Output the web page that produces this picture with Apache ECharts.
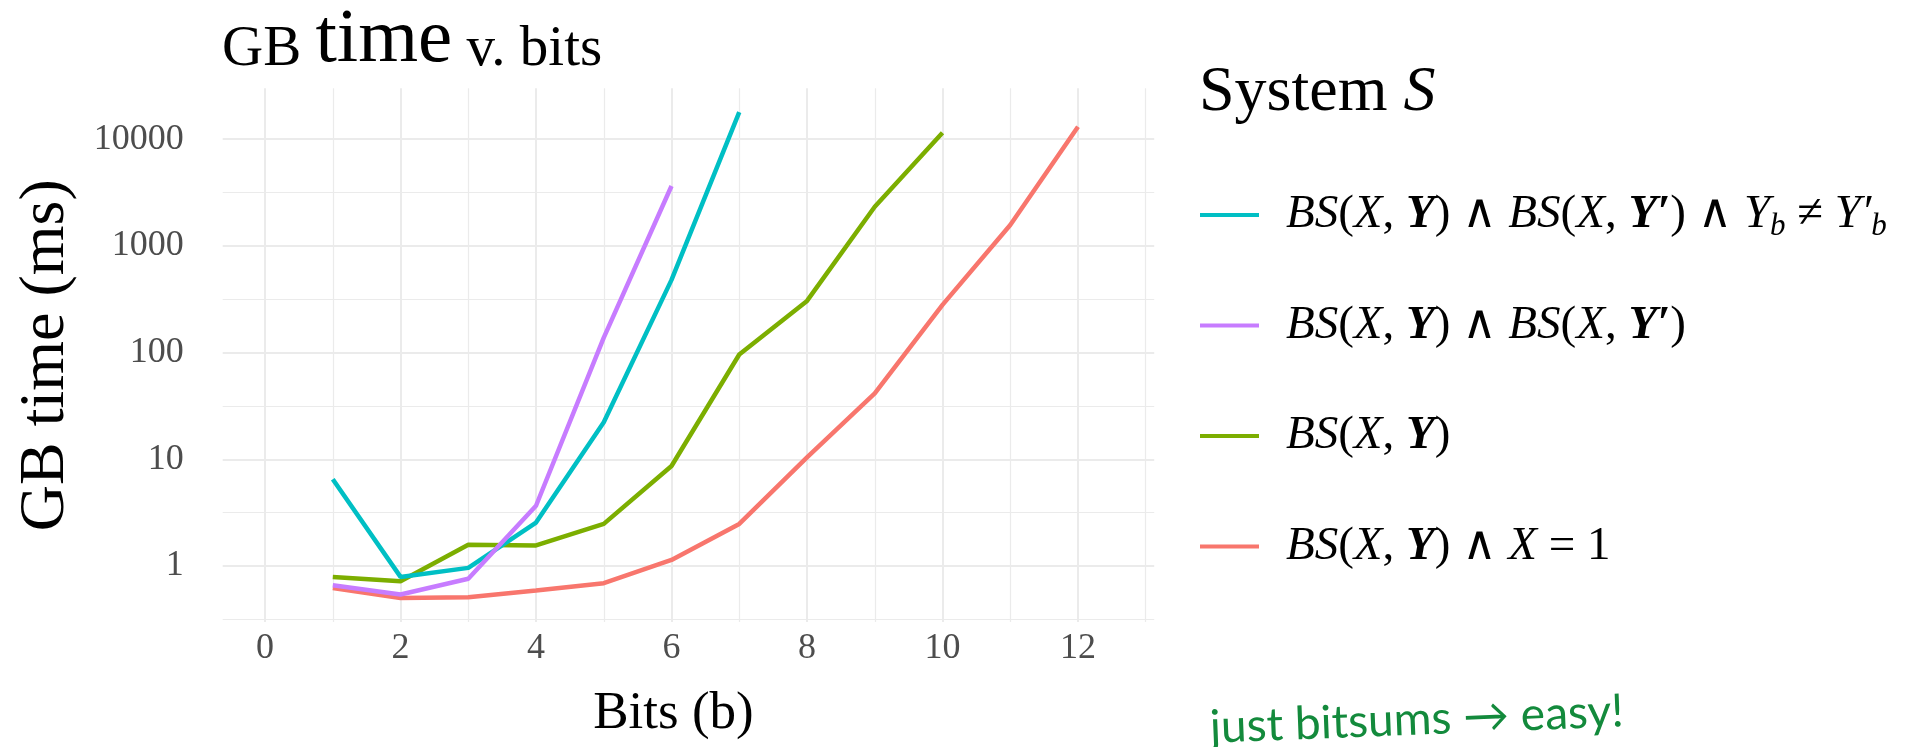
<!DOCTYPE html>
<html>
<head>
<meta charset="utf-8">
<script src="https://cdn.jsdelivr.net/npm/echarts@6/dist/echarts.min.js"></script>
<style>
  html, body { margin: 0; padding: 0; background: #fff; }
  #main { width: 1926px; height: 747px; }
</style>
</head>
<body>
<div id="main"></div>
<script>
// x: number of bits, y: GB time in ms (plotted on a log10 scale)
const bits = [1, 2, 3, 4, 5, 6, 7, 8, 9, 10, 11, 12];
const timeEq1 = [0.62, 0.50, 0.51, 0.59, 0.69, 1.14, 2.48, 10.4, 41.5, 280, 1570, 13100];
const timeBS = [0.79, 0.72, 1.58, 1.56, 2.48, 8.65, 96, 305, 2330, 11500];
const timeBS2 = [0.66, 0.54, 0.76, 3.67, 138, 3640];
const timeBS2Neq = [6.5, 0.79, 0.96, 2.55, 22.2, 480, 17900];

const xMajor = [0, 2, 4, 6, 8, 10, 12];
const xMinor = [1, 3, 5, 7, 9, 11, 13];
const yMajor = [0, 1, 2, 3, 4];            // log10 of 1 .. 10000
const yMinor = [-0.5, 0.5, 1.5, 2.5, 3.5];

const serif = 'Liberation Serif, DejaVu Serif, serif';
const gridColor = '#EBEBEB';

// legend labels, drawn as rich text
const labels = {
  bs2neq: '{i|BS}{n|(}{i|X}{n|, }{b|Y}{n|) ∧ }{i|BS}{n|(}{i|X}{n|, }{b|Y′}{n|) ∧ }{i|Y}{s|b}{n| ≠ }{i|Y′}{s|b}',
  bs2: '{i|BS}{n|(}{i|X}{n|, }{b|Y}{n|) ∧ }{i|BS}{n|(}{i|X}{n|, }{b|Y′}{n|)}',
  bs: '{i|BS}{n|(}{i|X}{n|, }{b|Y}{n|)}',
  eq1: '{i|BS}{n|(}{i|X}{n|, }{b|Y}{n|) ∧ }{i|X}{n| = 1}'
};
const legendOrder = ['bs2neq', 'bs2', 'bs', 'eq1'];
const legendCenters = [218.5, 329, 439.5, 550];

const richLegend = {
  i: { fontFamily: serif, fontStyle: 'italic', fontSize: 47, lineHeight: 54, color: '#000' },
  b: { fontFamily: serif, fontStyle: 'italic', fontWeight: 'bold', fontSize: 47, lineHeight: 54, color: '#000' },
  n: { fontFamily: serif, fontSize: 47, lineHeight: 54, color: '#000' },
  s: { fontFamily: serif, fontStyle: 'italic', fontSize: 31, lineHeight: 26, verticalAlign: 'bottom', color: '#000' }
};

const toLog = (vals) => vals.map((v, i) => [bits[i], Math.log10(v)]);

const lineSeries = (name, vals, color) => ({
  name: name,
  type: 'line',
  data: toLog(vals),
  showSymbol: false,
  symbol: 'none',
  color: color,
  lineStyle: { width: 4.5, color: color },
  animation: false
});

const chart = echarts.init(document.getElementById('main'));

const option = {
  backgroundColor: '#fff',
  animation: false,
  title: {
    text: '{a|GB }{b|time}{a| v. bits}',
    left: 222,
    top: 2,
    padding: 0,
    textStyle: {
      fontWeight: 'normal',
      rich: {
        a: { fontFamily: serif, fontWeight: 'normal', fontSize: 57, lineHeight: 63, verticalAlign: 'bottom', color: '#000' },
        b: { fontFamily: serif, fontWeight: 'normal', fontSize: 77, lineHeight: 77, verticalAlign: 'bottom', color: '#000' }
      }
    }
  },
  grid: { left: 222.7, top: 88.3, width: 931.5, height: 533.7 },
  legend: legendOrder.map((key, k) => ({
    data: [key],
    left: 1200,
    top: legendCenters[k] - 27,
    padding: 0,
    icon: 'rect',
    itemWidth: 59,
    itemHeight: 4,
    selectedMode: false,
    formatter: (name) => labels[name],
    textStyle: { padding: [0, 0, 0, 22], rich: richLegend }
  })),
  xAxis: [
    {
      type: 'value',
      min: -0.625,
      max: 13.125,
      name: 'Bits (b)',
      nameLocation: 'middle',
      nameGap: 66,
      nameTextStyle: { fontFamily: serif, fontSize: 53, color: '#000', padding: [0, 30, 0, 0] },
      axisLine: { show: false },
      axisTick: { show: false, customValues: xMajor },
      axisLabel: { customValues: xMajor, fontFamily: serif, fontSize: 36, color: '#4D4D4D', margin: 9 },
      splitLine: { show: true, lineStyle: { color: gridColor, width: 2 } }
    },
    {
      type: 'value',
      position: 'top',
      min: -0.625,
      max: 13.125,
      axisLine: { show: false },
      axisTick: { show: false, customValues: xMinor },
      axisLabel: { show: false, customValues: xMinor },
      splitLine: { show: true, lineStyle: { color: gridColor, width: 1.2 } }
    }
  ],
  yAxis: [
    {
      type: 'value',
      min: -0.525,
      max: 4.477,
      name: 'GB time (ms)',
      nameLocation: 'middle',
      nameRotate: 90,
      nameGap: 145,
      nameTextStyle: { fontFamily: serif, fontSize: 64, color: '#000' },
      axisLine: { show: false },
      axisTick: { show: false, customValues: yMajor },
      axisLabel: {
        customValues: yMajor,
        fontFamily: serif,
        fontSize: 36,
        color: '#4D4D4D',
        margin: 39,
        formatter: (v) => String(Math.round(Math.pow(10, v)))
      },
      splitLine: { show: true, lineStyle: { color: gridColor, width: 2 } }
    },
    {
      type: 'value',
      position: 'right',
      min: -0.525,
      max: 4.477,
      axisLine: { show: false },
      axisTick: { show: false, customValues: yMinor },
      axisLabel: { show: false, customValues: yMinor },
      splitLine: { show: true, lineStyle: { color: gridColor, width: 1.2 } }
    }
  ],
  graphic: [
    {
      type: 'text',
      left: 1199,
      top: 61,
      style: {
        text: '{a|System }{i|S}',
        rich: {
          a: { fontFamily: serif, fontSize: 64, lineHeight: 64, color: '#000' },
          i: { fontFamily: serif, fontStyle: 'italic', fontSize: 64, lineHeight: 64, color: '#000' }
        }
      }
    },
    {
      type: 'text',
      x: 1210,
      y: 728,
      rotation: 0.04,
      style: {
        text: 'just bitsums → easy!',
        fontFamily: 'Lato, DejaVu Sans, sans-serif',
        fontSize: 46,
        fill: '#138A3C',
        verticalAlign: 'middle'
      }
    }
  ],
  // drawn in factor order so purple ends on top
  series: [
    lineSeries('eq1', timeEq1, '#F8766D'),
    lineSeries('bs', timeBS, '#7CAE00'),
    lineSeries('bs2neq', timeBS2Neq, '#00BFC4'),
    lineSeries('bs2', timeBS2, '#C77CFF')
  ]
};

chart.setOption(option);
</script>
</body>
</html>
